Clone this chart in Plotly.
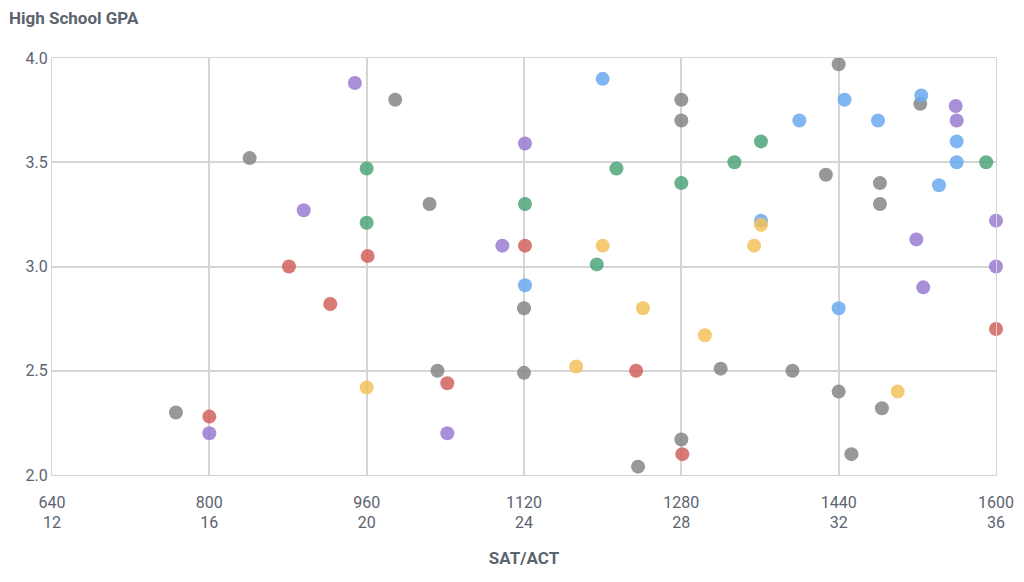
import plotly.graph_objects as go

grey_x = [766,841,989,1024,1032,1120,1120,1236,1280,1280,1280,1320,1393,1427,1440,1440,1453,1482,1482,1484,1523]
grey_y = [2.30,3.52,3.80,3.30,2.50,2.80,2.49,2.04,3.80,3.70,2.17,2.51,2.50,3.44,3.97,2.40,2.10,3.40,3.30,2.32,3.78]
red_x = [800,881,923,961,1042,1121,1234,1281,1600]
red_y = [2.28,3.00,2.82,3.05,2.44,3.10,2.50,2.10,2.70]
purple_x = [800,896,948,1042,1098,1121,1519,1526,1559,1560,1600,1600]
purple_y = [2.20,3.27,3.88,2.20,3.10,3.59,3.13,2.90,3.77,3.70,3.22,3.00]
green_x = [960,960,1121,1194,1214,1280,1334,1361,1590]
green_y = [3.47,3.21,3.30,3.01,3.47,3.40,3.50,3.60,3.50]
blue_x = [1121,1200,1361,1400,1446,1440,1480,1524,1542,1560,1560]
blue_y = [2.91,3.90,3.22,3.70,3.80,2.80,3.70,3.82,3.39,3.60,3.50]
yellow_x = [960,1173,1200,1241,1304,1354,1361,1500]
yellow_y = [2.42,2.52,3.10,2.80,2.67,3.10,3.20,2.40]

sat_ticks = [640,800,960,1120,1280,1440,1600]
act_ticks = [12,16,20,24,28,32,36]

series = [
    (grey_x, grey_y, "#868686"),
    (red_x, red_y, "#d2625e"),
    (purple_x, purple_y, "#9a7bd0"),
    (green_x, green_y, "#4ea57a"),
    (blue_x, blue_y, "#6aa9ee"),
    (yellow_x, yellow_y, "#f2c15a"),
]

TXT = "#5c6370"
fig = go.Figure()
for xs, ys, c in series:
    fig.add_trace(go.Scatter(x=xs, y=ys, mode="markers",
                             marker=dict(size=14, color=c, opacity=0.85, line=dict(width=0)),
                             showlegend=False, cliponaxis=False))
fig.add_trace(go.Scatter(x=[sat_ticks[0]], y=[3], xaxis="x2", mode="markers",
                         marker=dict(opacity=0), showlegend=False, hoverinfo="skip"))

fig.update_layout(
    width=1024, height=582,
    margin=dict(l=44, r=36, t=50, b=115),
    plot_bgcolor="white", paper_bgcolor="white",
    font=dict(family="Roboto", color=TXT, size=16),
    xaxis=dict(range=[640,1600], tickvals=sat_ticks, automargin=False, ticklabelstandoff=13,
               showgrid=True, gridcolor="#d5d5d5", gridwidth=1.5,
               showline=True, linecolor="#d5d5d5", mirror=True, zeroline=False,
               title=dict(text="<b>SAT/ACT</b>", font=dict(size=17, color=TXT), standoff=40)),
    xaxis2=dict(range=[640,1600], overlaying="x", side="bottom", tickvals=sat_ticks,
                ticktext=[str(a) for a in act_ticks], automargin=False, ticklabelstandoff=36,
                showgrid=False, showline=False, zeroline=False),
    yaxis=dict(range=[2.0,4.0], tickvals=[2.0,2.5,3.0,3.5,4.0], tickformat=".1f", automargin=False,
               showgrid=True, gridcolor="#d5d5d5", gridwidth=1.5,
               showline=True, linecolor="#d5d5d5", mirror=True, zeroline=False),
    annotations=[dict(text="<b>High School GPA</b>", xref="paper", yref="paper",
                      x=-0.048, y=1.0, yshift=52, xanchor="left", yanchor="top",
                      showarrow=False, font=dict(size=17, color=TXT))],
)
fig.write_html("out.html")
